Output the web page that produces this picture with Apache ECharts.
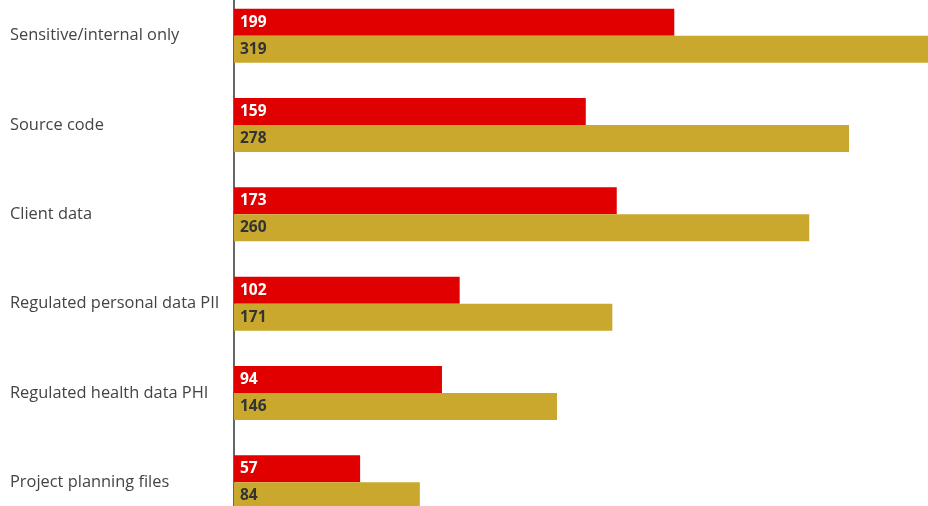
<!DOCTYPE html>
<html>
<head>
<meta charset="utf-8">
<script src="https://cdn.jsdelivr.net/npm/echarts@6/dist/echarts.min.js"></script>
<style>
  html, body { margin: 0; padding: 0; background: #fff; overflow: hidden; width: 928px; height: 506px; }
  /* the plot runs past the page edges on the right and at top/bottom */
  #chart { position: absolute; left: 0; top: -9px; width: 950px; height: 540px; }
</style>
</head>
<body>
<div id="chart"></div>
<script>
// Data types, two groups per category
const categories = [
  'Sensitive/internal only',
  'Source code',
  'Client data',
  'Regulated personal data PII',
  'Regulated health data PHI',
  'Project planning files'
];
const redValues = [199, 159, 173, 102, 94, 57];
const goldValues = [319, 278, 260, 171, 146, 84];

const chart = echarts.init(document.getElementById('chart'), null, { renderer: 'canvas' });

const font = '"Open Sans", "Noto Sans", sans-serif';

chart.setOption({
  animation: false,
  grid: { left: 234, top: 0, height: 536, width: 708 },
  xAxis: {
    type: 'value',
    min: 0,
    max: 320,
    show: false
  },
  yAxis: {
    type: 'category',
    data: categories,
    inverse: true,
    axisLine: { show: true, lineStyle: { color: '#333', width: 1.5 } },
    axisTick: { show: false },
    axisLabel: {
      align: 'left',
      margin: 224,
      color: '#444',
      fontSize: 16.4,
      fontFamily: font,
      padding: [6, 0, 0, 0]
    }
  },
  series: [
    {
      type: 'bar',
      data: redValues,
      barWidth: 27,
      barGap: '0%',
      itemStyle: { color: '#e10000' },
      label: {
        show: true,
        position: 'insideLeft',
        distance: 6,
        color: '#fff',
        fontWeight: 'bold',
        fontSize: 15.5,
        fontFamily: font
      }
    },
    {
      type: 'bar',
      data: goldValues,
      barWidth: 27,
      barGap: '0%',
      itemStyle: { color: '#c9a82d' },
      label: {
        show: true,
        position: 'insideLeft',
        distance: 6,
        color: '#333',
        fontWeight: 'bold',
        fontSize: 15.5,
        fontFamily: font
      }
    }
  ]
});
</script>
</body>
</html>
